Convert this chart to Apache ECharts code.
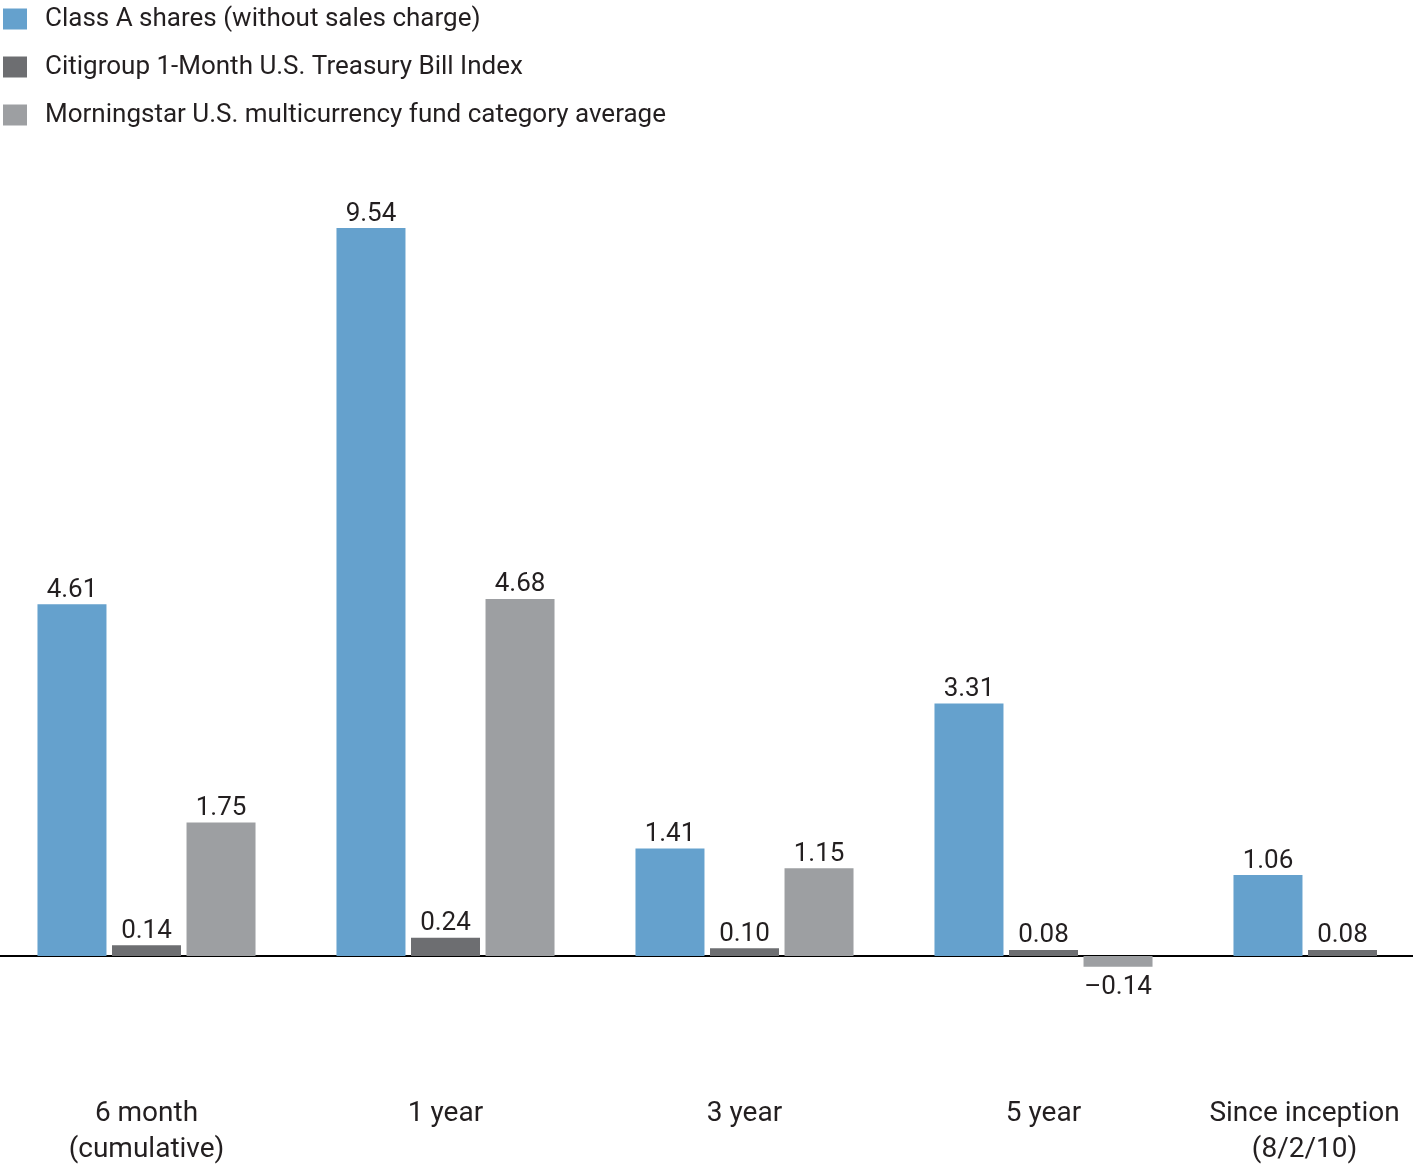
<!DOCTYPE html>
<html>
<head>
<meta charset="utf-8">
<script src="https://cdn.jsdelivr.net/npm/echarts@6/dist/echarts.min.js"></script>
<style>
html,body{margin:0;padding:0;background:#fff;}
#chart{width:1413px;height:1167px;}
</style>
</head>
<body>
<div id="chart"></div>
<script>
var categories = ['6 month\n(cumulative)', '1 year', '3 year', '5 year', 'Since inception\n(8/2/10)'];
var seriesNames = ['Class A shares (without sales charge)', 'Citigroup 1-Month U.S. Treasury Bill Index', 'Morningstar U.S. multicurrency fund category average'];
var classA = [4.61, 9.54, 1.41, 3.31, 1.06];
var citiTBill = [0.14, 0.24, 0.10, 0.08, 0.08];
var morningstar = [1.75, 4.68, 1.15, -0.14, null];
var colors = ['#65a1cd', '#6d6e71', '#9d9fa2'];

var TEXT = '#231f20';
var FONT = 'Roboto';
function fmt(v) {
  return v < 0 ? '\u2013' + Math.abs(v).toFixed(2) : v.toFixed(2);
}
function toData(arr) {
  return arr.map(function (v) {
    if (v === null) return null;
    return { value: v, label: { position: v < 0 ? 'bottom' : 'top', distance: v < 0 ? 8 : 1 } };
  });
}
var seriesValues = [classA, citiTBill, morningstar];
var series = seriesValues.map(function (arr, i) {
  return {
    name: seriesNames[i],
    type: 'bar',
    data: toData(arr),
    barWidth: 69,
    barGap: '8%',
    itemStyle: { color: colors[i] },
    label: {
      show: true,
      distance: 1,
      color: TEXT,
      fontFamily: FONT,
      fontSize: 26,
      formatter: function (p) { return fmt(p.value); }
    }
  };
});

var chart = echarts.init(document.getElementById('chart'), null, { renderer: 'canvas' });
chart.setOption({
  animation: false,
  backgroundColor: '#ffffff',
  legend: {
    orient: 'vertical',
    left: 3,
    top: 5,
    padding: 0,
    icon: 'rect',
    itemWidth: 24,
    itemHeight: 21,
    itemGap: 20,
    selectedMode: false,
    textStyle: {
      color: TEXT,
      fontFamily: FONT,
      fontSize: 26,
      lineHeight: 28,
      padding: [0, 0, 0, 13]
    },
    data: seriesNames
  },
  grid: { left: -3, width: 1495, top: 193, height: 839.3, containLabel: false, outerBoundsMode: 'none' },
  xAxis: {
    type: 'category',
    data: categories,
    axisLine: { onZero: true, lineStyle: { color: '#000', width: 2 } },
    axisTick: { show: false },
    axisLabel: {
      interval: 0,
      margin: 64,
      color: TEXT,
      fontFamily: FONT,
      fontSize: 28,
      lineHeight: 36,
      formatter: function (v, idx) {
        var lines = v.split('\n');
        var style = idx === categories.length - 1 ? 'last' : 'n';
        return lines.map(function (l) { return '{' + style + '|' + l + '}'; }).join('\n');
      },
      rich: {
        n: { fontFamily: FONT, fontSize: 28, lineHeight: 36, color: TEXT },
        last: { fontFamily: FONT, fontSize: 28, lineHeight: 36, color: TEXT, padding: [0, 76, 0, 0] }
      }
    }
  },
  yAxis: {
    type: 'value',
    min: -1,
    max: 10,
    show: false,
    splitLine: { show: false }
  },
  series: series
});
</script>
</body>
</html>
